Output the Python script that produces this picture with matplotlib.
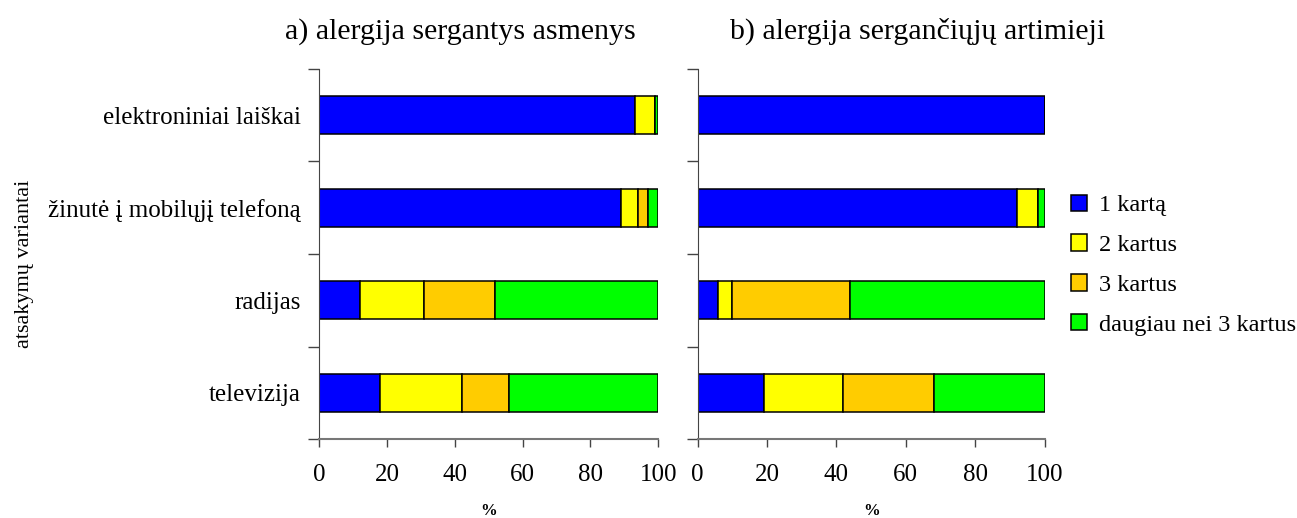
import numpy as np
import matplotlib
matplotlib.use('Agg')
import matplotlib.pyplot as plt
from matplotlib import rcParams

rcParams['font.family'] = ['Liberation Serif', 'DejaVu Serif']

# %% Data (percent), categories from bottom to top
categories = ['televizija', 'radijas', 'žinutė į mobilųjį telefoną', 'elektroniniai laiškai']
series = ['1 kartą', '2 kartus', '3 kartus', 'daugiau nei 3 kartus']
colours = ['#0000ff', '#ffff00', '#ffcc00', '#00ff00']

# a) alergija sergantys asmenys
valsA = {'1 kartą':              [18, 12, 89, 93],
         '2 kartus':             [24, 19, 5, 6],
         '3 kartus':             [14, 21, 3, 0],
         'daugiau nei 3 kartus': [44, 48, 3, 1]}

# b) alergija sergančiųjų artimieji
valsB = {'1 kartą':              [19, 6, 92, 100],
         '2 kartus':             [23, 4, 6, 0],
         '3 kartus':             [26, 34, 0, 0],
         'daugiau nei 3 kartus': [32, 56, 2, 0]}

xticks = [0, 20, 40, 60, 80, 100]

# %% Figure
fig = plt.figure(figsize=(12.97, 5.18), dpi=100)
axA = fig.add_axes([0.246, 0.1525, 0.2616, 0.7143])
axB = fig.add_axes([0.5379, 0.1525, 0.2675, 0.7143])

yPos = np.arange(len(categories))
handles = []
for ax, vals in [(axA, valsA), (axB, valsB)]:
    left = np.zeros(len(categories))
    for ss, col in zip(series, colours):
        v = np.array(vals[ss], dtype=float)
        b = ax.barh(yPos, v, left=left, height=0.41, color=col,
                    edgecolor='black', linewidth=1.1, label=ss)
        left += v
        if ax is axA:
            handles.append(b)
    ax.set_xlim(0, 100)
    ax.set_ylim(-0.5, len(categories) - 0.5)
    ax.set_xticks(xticks)
    ax.set_xticklabels([str(t) for t in xticks], fontsize=18)
    ax.tick_params(axis='x', direction='out', length=6, width=1, pad=12, colors='#444444',
                   labelcolor='black')
    #Y ticks at category boundaries, labels in between
    ax.set_yticks(np.arange(-0.5, len(categories), 1.0))
    ax.set_yticklabels([])
    ax.tick_params(axis='y', which='major', direction='out', length=8, width=1, colors='#444444')
    ax.spines['top'].set_visible(False)
    ax.spines['right'].set_visible(False)
    ax.spines['left'].set_color('#444444')
    ax.spines['bottom'].set_color('#777777')
    ax.spines['bottom'].set_linewidth(1.5)
    ax.set_xlabel('%', fontsize=12, fontweight='bold', labelpad=12)

axA.set_yticks(yPos, minor=True)
axA.set_yticklabels(categories, minor=True, fontsize=18)
axA.tick_params(axis='y', which='minor', length=0, pad=13)
axB.tick_params(axis='y', which='minor', length=0)

#Titles
fig.text(0.3547, 0.940, 'a) alergija sergantys asmenys', fontsize=21.5, ha='center', va='center')
fig.text(0.7078, 0.940, 'b) alergija sergančiųjų artimieji', fontsize=21.5, ha='center', va='center')

#Y label
fig.text(0.019, 0.49, 'atsakymų variantai', fontsize=16, rotation=90, ha='center', va='center')

#Legend
fig.legend(handles, series, loc='center left', bbox_to_anchor=(0.809, 0.488),
           frameon=False, fontsize=17.5, handlelength=0.65, handleheight=0.65,
           handletextpad=0.5, labelspacing=0.75)

fig.savefig('out.png', dpi=100, facecolor='white')
